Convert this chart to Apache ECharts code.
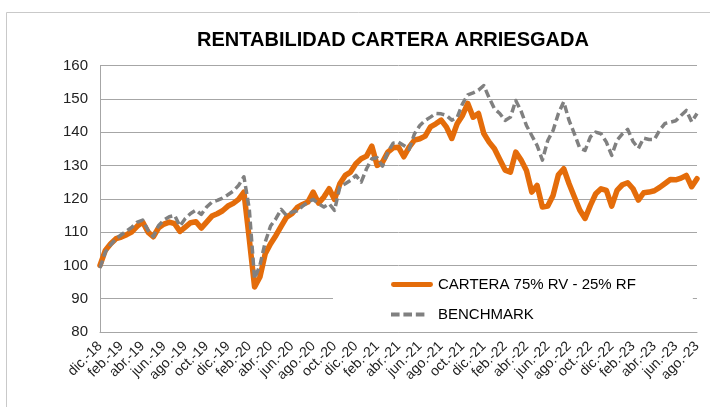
<!DOCTYPE html>
<html>
<head>
<meta charset="utf-8">
<script src="https://cdn.jsdelivr.net/npm/echarts@6/dist/echarts.min.js"></script>
<style>
html,body{margin:0;padding:0;background:#fff;}
#chart{width:710px;height:407px;}
</style>
</head>
<body>
<div id="chart"></div>
<script>
// Tick labels every two months (x axis)
var tickLabels = ['dic.-18','feb.-19','abr.-19','jun.-19','ago.-19','oct.-19','dic.-19','feb.-20','abr.-20','jun.-20','ago.-20','oct.-20','dic.-20','feb.-21','abr.-21','jun.-21','ago.-21','oct.-21','dic.-21','feb.-22','abr.-22','jun.-22','ago.-22','oct.-22','dic.-22','feb.-23','abr.-23','jun.-23','ago.-23'];
var pointsPerTick = 4; // half-month observations between labelled ticks

// CARTERA 75% RV - 25% RF (half-monthly)
var cartera = [100.0,104.5,106.5,108.0,108.5,109.2,110.1,111.8,113.0,110.0,
  108.6,111.3,112.4,113.0,112.5,110.2,111.5,112.8,113.1,111.2,
  113.0,114.8,115.5,116.4,117.8,118.6,119.8,122.0,108.0,93.5,
  96.5,103.5,106.5,109.0,111.8,114.5,115.5,117.4,118.3,119.0,
  122.0,118.7,120.5,123.0,119.8,124.5,127.0,128.0,130.5,132.0,
  132.8,135.8,130.0,131.0,134.0,135.3,135.5,132.6,135.5,137.6,
  138.0,138.8,141.6,142.5,143.6,141.5,138.1,142.5,145.0,148.6,
  144.5,145.6,139.6,137.0,135.0,131.8,128.6,128.0,134.0,131.6,
  128.5,122.0,124.0,117.5,117.8,121.0,127.2,129.0,124.5,120.5,
  116.6,114.1,118.0,121.5,123.0,122.5,117.8,122.5,124.2,124.8,
  123.0,119.6,121.8,122.0,122.4,123.4,124.6,125.8,125.7,126.2,
  127.0,123.6,126.0];

// BENCHMARK (half-monthly)
var benchmark = [99.2,104.0,106.2,108.0,109.2,110.3,111.5,113.0,113.6,110.6,
  108.6,112.0,113.6,114.6,115.0,111.8,114.1,115.6,116.6,115.3,
  117.5,119.0,119.5,120.2,121.2,122.3,124.0,126.6,117.0,96.0,
  100.0,107.0,111.8,114.0,116.8,115.0,116.0,116.4,117.8,119.0,
  119.8,118.5,117.5,118.5,116.5,123.6,124.5,125.5,127.0,125.0,
  129.0,132.0,132.3,129.8,134.0,136.7,137.0,136.0,134.8,139.5,
  142.0,143.5,144.5,145.6,145.5,145.0,143.6,144.4,148.5,151.2,
  151.8,152.6,154.0,150.3,147.0,145.6,143.5,144.5,149.5,146.3,
  142.0,139.0,136.0,131.6,137.5,140.5,145.6,149.1,143.5,139.5,
  135.2,134.5,138.6,140.0,139.5,137.0,133.0,137.6,139.5,140.8,
  137.2,135.1,138.2,137.8,137.8,140.6,142.6,143.0,143.4,145.0,
  146.5,143.1,145.6];

var seriesNames = ['CARTERA 75% RV - 25% RF', 'BENCHMARK'];

// category list built from tick labels
var categories = [];
for (var i = 0; i < cartera.length; i++) {
  var t = Math.floor(i / pointsPerTick);
  categories.push(i % pointsPerTick === 0 ? tickLabels[t] : tickLabels[t] + '#' + (i % pointsPerTick));
}

var FONT = '"Liberation Sans", Arial, sans-serif';
// legend icons: solid rounded bar and three dashes
var solidIcon = 'path://M2.5,0 L41.5,0 A2.5,2.5 0 0 1 41.5,5 L2.5,5 A2.5,2.5 0 0 1 2.5,0 Z';
var dashIcon = 'path://M0,0.5 L9,0.5 L9,4.5 L0,4.5 Z M13,0.5 L22,0.5 L22,4.5 L13,4.5 Z M26,0.5 L35,0.5 L35,4.5 L26,4.5 Z M44,0 L44,0.01 Z M0,0 L0,0.01 Z M0,5 L0,5.01 Z';

var chart = echarts.init(document.getElementById('chart'), null, {renderer: 'canvas'});
chart.setOption({
  animation: false,
  backgroundColor: '#fff',
  title: {
    text: 'RENTABILIDAD CARTERA ARRIESGADA',
    left: 388, top: 25, textAlign: 'center',
    textStyle: {fontFamily: FONT, fontWeight: 'bold', fontSize: 20, color: '#000'}
  },
  graphic: [{
    type: 'rect', z: -1, silent: true,
    shape: {x: 6.5, y: 12.5, width: 720, height: 420},
    style: {fill: 'none', stroke: '#c9c9c9', lineWidth: 1}
  }],
  grid: {left: 100, right: 13, top: 65.5, bottom: 75, containLabel: false},
  legend: {
    orient: 'vertical', left: 333, top: 272,
    padding: [5, 57, 5, 58], itemGap: 15,
    itemWidth: 42, itemHeight: 5,
    backgroundColor: '#fff',
    data: [{name: seriesNames[0], icon: solidIcon}, {name: seriesNames[1], icon: dashIcon}],
    textStyle: {fontFamily: FONT, fontSize: 15, color: '#000'}
  },
  xAxis: {
    type: 'category', data: categories, boundaryGap: false,
    axisLine: {show: true, lineStyle: {color: '#a6a6a6', width: 1}},
    axisTick: {show: false},
    splitLine: {show: false},
    axisLabel: {
      interval: pointsPerTick - 1, rotate: 45, margin: 12,
      fontFamily: FONT, fontSize: 14, color: '#222',
      formatter: function (v) { return v.split('#')[0]; }
    }
  },
  yAxis: {
    type: 'value', min: 80, max: 160, interval: 10,
    axisLine: {show: true, lineStyle: {color: '#a6a6a6', width: 1}},
    axisTick: {show: false},
    splitLine: {show: true, lineStyle: {color: '#a6a6a6', width: 1}},
    axisLabel: {margin: 12, fontFamily: FONT, fontSize: 15, color: '#222'}
  },
  series: [{
    name: seriesNames[0], type: 'line', data: cartera,
    symbol: 'none', z: 2,
    lineStyle: {color: '#e46c0a', width: 5.5, cap: 'round', join: 'round'},
    itemStyle: {color: '#e46c0a'}
  }, {
    name: seriesNames[1], type: 'line', data: benchmark,
    symbol: 'none', z: 3,
    lineStyle: {color: '#808080', width: 3.5, type: [8, 4], join: 'round'},
    itemStyle: {color: '#808080'}
  }]
});
</script>
</body>
</html>
